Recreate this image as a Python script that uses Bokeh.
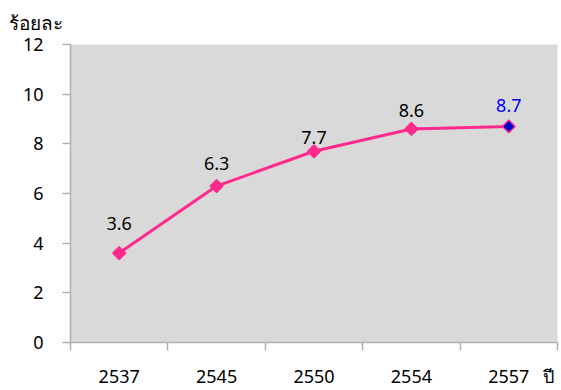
import math
from bokeh.plotting import figure
from bokeh.models import Range1d, FixedTicker, ColumnDataSource
from bokeh.core.properties import value
from bokeh.embed import file_html
from bokeh.resources import INLINE

# ---- data ----
years = ["2537", "2545", "2550", "2554", "2557"]
percent = [3.6, 6.3, 7.7, 8.6, 8.7]
y_ticks = [0, 2, 4, 6, 8, 10, 12]
y_title = "ร้อยละ"
x_title = "ปี"

# ---- style ----
FONT = "Noto Sans"
PINK = "#ff2a8c"
BLUE = "#0000ff"
AXIS = "#b0b0b0"
label_colors = ["black", "black", "black", "black", BLUE]
marker_fills = [PINK, PINK, PINK, PINK, "#0000cc"]
label_lift = [-30, -23, -14, -18, -21]
x_title_pos = 0.41  # fraction of a category past the last centre

xs = list(range(1, len(years) + 1))

p = figure(width=561, height=390, output_backend="svg", toolbar_location=None,
           x_range=Range1d(0.5, len(years) + 0.5), y_range=Range1d(0, 12))
p.min_border_left = 70
p.min_border_right = 4
p.min_border_top = 44
p.min_border_bottom = 48
p.background_fill_color = "#d9d9d9"
p.border_fill_color = "white"
p.outline_line_color = None
p.grid.visible = False

p.title.text = y_title
p.title.align = "left"
p.title.offset = -62
p.title.standoff = 15
p.title.vertical_align = "middle"
p.title.text_font = FONT
p.title.text_font_size = "19px"
p.title.text_font_style = "normal"
p.title.text_color = "black"

# x axis: labels at centres, ticks at category boundaries, "ปี" at the right end
xa = p.xaxis[0]
title_tick = xs[-1] + x_title_pos
xa.ticker = FixedTicker(ticks=xs + [title_tick],
                        minor_ticks=[x - 0.5 for x in xs] + [xs[-1] + 0.5])
overrides = {x: y for x, y in zip(xs, years)}
overrides[title_tick] = x_title
xa.major_label_overrides = overrides
xa.major_tick_out = 0
xa.major_tick_in = 0
xa.minor_tick_out = 8
xa.minor_tick_in = 0
xa.minor_tick_line_color = AXIS
xa.minor_tick_line_width = 1.5
xa.axis_line_color = AXIS
xa.axis_line_width = 1.5
xa.major_label_standoff = 13
xa.major_label_text_font = FONT
xa.major_label_text_font_size = "18px"
xa.major_label_text_color = "black"

ya = p.yaxis[0]
ya.ticker = FixedTicker(ticks=y_ticks, minor_ticks=[])
ya.major_tick_out = 8
ya.major_tick_in = 0
ya.minor_tick_out = 0
ya.minor_tick_in = 0
ya.major_tick_line_color = AXIS
ya.major_tick_line_width = 1.5
ya.axis_line_color = AXIS
ya.axis_line_width = 1.5
ya.major_label_standoff = 19
ya.major_label_text_font = FONT
ya.major_label_text_font_size = "18px"
ya.major_label_text_color = "black"

src = ColumnDataSource(dict(x=xs, y=percent, txt=[f"{v:.1f}" for v in percent],
                            tc=label_colors, fc=marker_fills, dy=label_lift))

p.line("x", "y", source=src, line_color=PINK, line_width=3)
p.scatter("x", "y", source=src, marker="square", angle=math.pi / 4, size=9,
          fill_color="fc", line_color=PINK, line_width=1.5)
p.text("x", "y", text="txt", source=src, y_offset="dy", text_color="tc",
       text_align="center", text_baseline="middle",
       text_font=value(FONT), text_font_size="18px")

open("out.html", "w").write(file_html(p, INLINE))
